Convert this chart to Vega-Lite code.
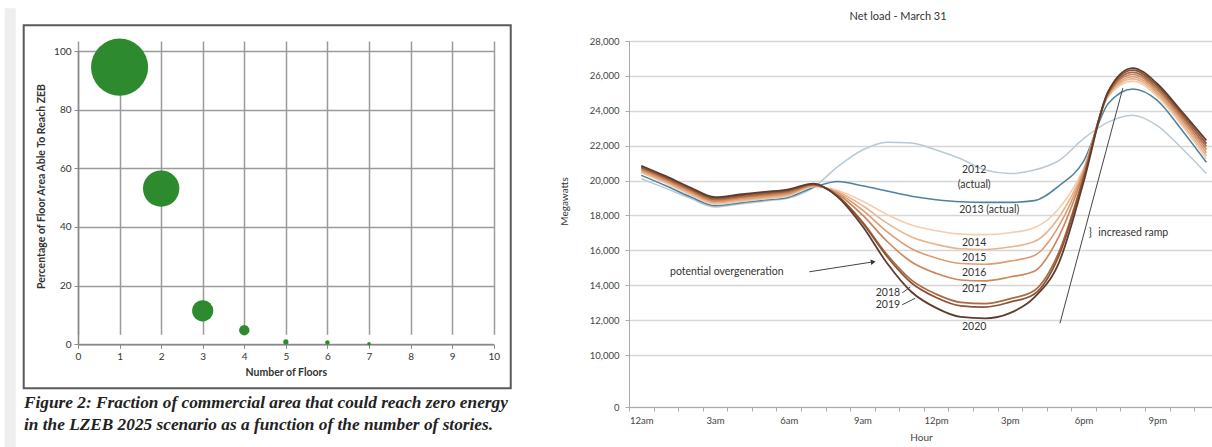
{
  "$schema": "https://vega.github.io/schema/vega-lite/v6.json",
  "padding": {"left": 4, "top": 8, "right": 0, "bottom": 0},
  "autosize": {"type": "pad"},
  "background": "white",
  "config": {"view": {"stroke": null}, "font": "Lato"},
  "spacing": 135,
  "bounds": "flush",
  "datasets": {
    "bubbles": [
      {"floors": 1, "pct": 94.5, "share": 94.7},
      {"floors": 2, "pct": 53.1, "share": 38.4},
      {"floors": 3, "pct": 11.4, "share": 13.1},
      {"floors": 4, "pct": 4.8, "share": 3.1},
      {"floors": 5, "pct": 0.8, "share": 0.8},
      {"floors": 6, "pct": 0.6, "share": 0.6},
      {"floors": 7, "pct": 0.2, "share": 0.37}
    ],
    "load": [
      {"hour": 0, "2012": 20100, "2013": 20300, "2014": 20440, "2015": 20510, "2016": 20580, "2017": 20650, "2018": 20720, "2019": 20790, "2020": 20850},
      {"hour": 1, "2012": 19550, "2013": 19700, "2014": 19840, "2015": 19910, "2016": 19980, "2017": 20050, "2018": 20120, "2019": 20190, "2020": 20250},
      {"hour": 2, "2012": 18980, "2013": 19070, "2014": 19190, "2015": 19260, "2016": 19330, "2017": 19400, "2018": 19470, "2019": 19540, "2020": 19600},
      {"hour": 3, "2012": 18480, "2013": 18560, "2014": 18640, "2015": 18710, "2016": 18780, "2017": 18850, "2018": 18920, "2019": 18990, "2020": 19050},
      {"hour": 4, "2012": 18650, "2013": 18720, "2014": 18790, "2015": 18860, "2016": 18930, "2017": 19000, "2018": 19070, "2019": 19140, "2020": 19200},
      {"hour": 5, "2012": 18820, "2013": 18880, "2014": 18940, "2015": 19010, "2016": 19080, "2017": 19150, "2018": 19220, "2019": 19290, "2020": 19350},
      {"hour": 6, "2012": 19000, "2013": 19050, "2014": 19120, "2015": 19180, "2016": 19250, "2017": 19310, "2018": 19380, "2019": 19440, "2020": 19500},
      {"hour": 7, "2012": 19600, "2013": 19600, "2014": 19640, "2015": 19670, "2016": 19700, "2017": 19730, "2018": 19760, "2019": 19790, "2020": 19820},
      {"hour": 8, "2012": 20800, "2013": 19950, "2014": 19430, "2015": 19360, "2016": 19290, "2017": 19220, "2018": 19110, "2019": 19100, "2020": 19050},
      {"hour": 9, "2012": 21750, "2013": 19700, "2014": 18825, "2015": 18570, "2016": 18315, "2017": 18030, "2018": 17640, "2019": 17580, "2020": 17390},
      {"hour": 10, "2012": 22200, "2013": 19400, "2014": 18055, "2015": 17560, "2016": 17070, "2017": 16520, "2018": 15760, "2019": 15650, "2020": 15270},
      {"hour": 11, "2012": 22150, "2013": 19100, "2014": 17450, "2015": 16770, "2016": 16090, "2017": 15330, "2018": 14290, "2019": 14130, "2020": 13610},
      {"hour": 12, "2012": 21750, "2013": 18900, "2014": 17120, "2015": 16340, "2016": 15560, "2017": 14680, "2018": 13490, "2019": 13300, "2020": 12700},
      {"hour": 13, "2012": 21250, "2013": 18780, "2014": 16930, "2015": 16090, "2016": 15245, "2017": 14300, "2018": 13020, "2019": 12820, "2020": 12180},
      {"hour": 14, "2012": 20600, "2013": 18750, "2014": 16900, "2015": 16050, "2016": 15200, "2017": 14250, "2018": 12950, "2019": 12750, "2020": 12100},
      {"hour": 15, "2012": 20400, "2013": 18750, "2014": 17010, "2015": 16190, "2016": 15380, "2017": 14470, "2018": 13220, "2019": 13030, "2020": 12400},
      {"hour": 16, "2012": 20600, "2013": 18850, "2014": 17300, "2015": 16500, "2016": 15700, "2017": 14800, "2018": 13700, "2019": 13500, "2020": 13300},
      {"hour": 17, "2012": 21150, "2013": 19700, "2014": 18400, "2015": 17900, "2016": 17400, "2017": 16800, "2018": 15900, "2019": 15700, "2020": 15300},
      {"hour": 18, "2012": 22400, "2013": 21100, "2014": 20700, "2015": 20600, "2016": 20500, "2017": 20400, "2018": 20200, "2019": 20100, "2020": 19900},
      {"hour": 19, "2012": 23350, "2013": 24400, "2014": 24800, "2015": 24850, "2016": 24900, "2017": 24950, "2018": 25000, "2019": 25050, "2020": 25100},
      {"hour": 20, "2012": 23750, "2013": 25250, "2014": 25700, "2015": 25830, "2016": 25950, "2017": 26080, "2018": 26200, "2019": 26330, "2020": 26450},
      {"hour": 21, "2012": 23150, "2013": 24600, "2014": 24820, "2015": 24940, "2016": 25060, "2017": 25180, "2018": 25300, "2019": 25430, "2020": 25550},
      {"hour": 22, "2012": 21850, "2013": 22900, "2014": 23170, "2015": 23300, "2016": 23440, "2017": 23570, "2018": 23700, "2019": 23830, "2020": 23950},
      {"hour": 23, "2012": 20400, "2013": 21050, "2014": 21250, "2015": 21420, "2016": 21600, "2017": 21780, "2018": 21950, "2019": 22120, "2020": 22300}
    ],
    "centerNotes": [
      {"label": "2012", "hour": 13.55, "mw": 20595},
      {"label": "(actual)", "hour": 13.55, "mw": 19735},
      {"label": "2014", "hour": 13.55, "mw": 16430},
      {"label": "2015", "hour": 13.55, "mw": 15540},
      {"label": "2016", "hour": 13.55, "mw": 14680},
      {"label": "2017", "hour": 13.55, "mw": 13760},
      {"label": "2020", "hour": 13.55, "mw": 11620},
      {"label": "2018", "hour": 10.04, "mw": 13530},
      {"label": "2019", "hour": 10.04, "mw": 12860},
      {"label": "}", "hour": 18.28, "mw": 16985}
    ],
    "leftNotes": [
      {"label": "2013 (actual)", "hour": 12.94, "mw": 18300},
      {"label": "potential overgeneration", "hour": 1.17, "mw": 14770},
      {"label": "increased ramp", "hour": 18.6, "mw": 16985}
    ],
    "segments": [
      {"seg": "overgen", "hour": 6.84, "mw": 14770},
      {"seg": "overgen", "hour": 9.44, "mw": 15340},
      {"seg": "ramp", "hour": 17.04, "mw": 11815},
      {"seg": "ramp", "hour": 19.6, "mw": 25300},
      {"seg": "l2018", "hour": 10.62, "mw": 13560},
      {"seg": "l2018", "hour": 10.95, "mw": 13900},
      {"seg": "l2019", "hour": 10.62, "mw": 12880},
      {"seg": "l2019", "hour": 11.15, "mw": 13250}
    ],
    "heads": [
      {"hour": 9.44, "mw": 15340}
    ]
  },
  "hconcat": [
    {
      "width": 415.7,
      "height": 303.3,
      "title": {
        "text": ["Figure 2: Fraction of commercial area that could reach zero energy", "in the LZEB 2025 scenario as a function of the number of stories."],
        "orient": "bottom",
        "anchor": "start",
        "frame": "group",
        "dx": -54,
        "offset": -53,
        "font": "Liberation Serif",
        "fontSize": 17.3,
        "fontWeight": "bold",
        "fontStyle": "italic",
        "color": "#222222",
        "lineHeight": 22
      },
      "layer": [
        {
          "data": {"values": [{}]},
          "mark": {"type": "rect", "fill": "#eeeeee", "clip": false},
          "encoding": {
            "x": {"datum": -1.763, "type": "quantitative"},
            "x2": {"datum": -1.499},
            "y": {"datum": 114.56, "type": "quantitative"},
            "y2": {"datum": -35.12}
          }
        },
        {
          "data": {"values": [{}]},
          "mark": {"type": "rect", "fillOpacity": 0, "stroke": "#5a5a5a", "strokeWidth": 2, "clip": false},
          "encoding": {
            "x": {"datum": -1.306, "type": "quantitative"},
            "x2": {"datum": 10.41},
            "y": {"datum": 108.76, "type": "quantitative"},
            "y2": {"datum": -15.0}
          }
        },
        {
          "data": {"name": "bubbles"},
          "mark": {"type": "circle", "opacity": 1, "color": "#2e8a2e"},
          "encoding": {
            "x": {
              "field": "floors", "type": "quantitative",
              "scale": {"domain": [0, 10], "nice": false, "zero": false},
              "axis": {
                "values": [0, 1, 2, 3, 4, 5, 6, 7, 8, 9, 10],
                "tickCount": 100,
                "format": "d",
                "title": "Number of Floors",
                "grid": true, "gridColor": "#9a9a9a", "gridWidth": 1.5,
                "domainColor": "#888888", "domainWidth": 1.5,
                "tickColor": "#888888", "tickSize": 4,
                "labelFontSize": 10, "labelColor": "#333333", "labelPadding": 3,
                "labelFlush": false, "labelOverlap": false,
                "titleFontSize": 10.5, "titleFontWeight": "bold", "titleColor": "#333333", "titlePadding": 6
              }
            },
            "y": {
              "field": "pct", "type": "quantitative",
              "scale": {"domain": [0, 100], "range": [303.3, 10], "nice": false, "zero": false},
              "axis": {
                "values": [0, 20, 40, 60, 80, 100],
                "tickCount": 100,
                "format": "d",
                "title": "Percentage of Floor Area Able To Reach ZEB",
                "grid": true, "gridColor": "#9a9a9a", "gridWidth": 1.5,
                "domainColor": "#888888", "domainWidth": 1.5,
                "tickColor": "#888888", "tickSize": 4,
                "labelFontSize": 10, "labelColor": "#333333", "labelPadding": 3,
                "labelFlush": false, "labelOverlap": false,
                "titleFontSize": 10.5, "titleFontWeight": "bold", "titleColor": "#333333",
                "titleX": -37, "titleY": 145, "titleAngle": -90, "titleBaseline": "middle"
              }
            },
            "size": {"field": "share", "type": "quantitative", "scale": {"domain": [0, 100], "range": [0, 3440], "zero": true}, "legend": null}
          }
        }
      ]
    },
    {
      "width": 584,
      "height": 366,
      "title": {"text": "Net load - March 31", "fontSize": 11, "fontWeight": "normal", "color": "#333333", "anchor": "middle", "frame": "group", "dx": -23, "offset": 14},
      "layer": [
        {
          "data": {"name": "load"},
          "transform": [{"fold": ["2012", "2013", "2014", "2015", "2016", "2017", "2018", "2019", "2020"], "as": ["series", "mw"]}],
          "mark": {"type": "line", "interpolate": "monotone"},
          "encoding": {
            "x": {
              "field": "hour", "type": "quantitative",
              "scale": {"domain": [-0.5, 23.27], "nice": false, "zero": false},
              "axis": {
                "values": [-0.5, 0.5, 1.5, 2.5, 3.5, 4.5, 5.5, 6.5, 7.5, 8.5, 9.5, 10.5, 11.5, 12.5, 13.5, 14.5, 15.5, 16.5, 17.5, 18.5, 19.5, 20.5, 21.5, 22.5],
                "tickCount": 100,
                "labelExpr": "(datum.value + 0.5) % 3 == 0 ? ['12am','3am','6am','9am','12pm','3pm','6pm','9pm'][(datum.value + 0.5) / 3] : ''",
                "labelOffset": 12.28,
                "labelOverlap": false, "labelFlush": false, "labelBound": false,
                "title": "Hour", "grid": false,
                "tickSize": 4, "tickColor": "#aaaaaa", "domainColor": "#aaaaaa",
                "labelFontSize": 9.5, "labelColor": "#444444", "labelPadding": 4,
                "titleFontSize": 10, "titleFontWeight": "normal", "titleColor": "#444444", "titlePadding": 8
              }
            },
            "y": {
              "field": "mw", "type": "quantitative",
              "scale": {"domain": [0, 10000, 28000], "range": [366, 314, 0], "nice": false, "zero": false},
              "axis": {
                "values": [0, 10000, 12000, 14000, 16000, 18000, 20000, 22000, 24000, 26000, 28000],
                "tickCount": 100,
                "format": ",d",
                "labelOverlap": false, "labelFlush": false,
                "title": "Megawatts",
                "grid": true, "gridColor": "#d6d6d6", "gridWidth": 1.5,
                "domainColor": "#aaaaaa", "tickColor": "#aaaaaa", "tickSize": 4,
                "labelPadding": 6, "labelFontSize": 9.5, "labelColor": "#444444",
                "titleFontSize": 10, "titleFontWeight": "normal", "titleColor": "#333333",
                "titleX": -65, "titleY": 160, "titleAngle": -90, "titleBaseline": "middle"
              }
            },
            "color": {
              "field": "series", "type": "nominal",
              "scale": {"domain": ["2012", "2013", "2014", "2015", "2016", "2017", "2018", "2019", "2020"],
                        "range": ["#b9cad6", "#4e82a0", "#f2cfb0", "#e8b48f", "#dc9d74", "#cc875c", "#a96a44", "#8b5436", "#5f3c30"]},
              "legend": null
            },
            "strokeWidth": {
              "field": "series", "type": "nominal",
              "scale": {"domain": ["2012", "2013", "2014", "2015", "2016", "2017", "2018", "2019", "2020"],
                        "range": [1.5, 1.8, 2, 2, 2, 2, 2, 2, 2.2]},
              "legend": null
            }
          }
        },
        {
          "data": {"name": "segments"},
          "mark": {"type": "line", "color": "#444444", "strokeWidth": 1},
          "encoding": {
            "x": {"field": "hour", "type": "quantitative"},
            "y": {"field": "mw", "type": "quantitative"},
            "detail": {"field": "seg", "type": "nominal"}
          }
        },
        {
          "data": {"name": "heads"},
          "mark": {"type": "point", "shape": "triangle-right", "filled": true, "size": 30, "angle": 351, "color": "#333333", "opacity": 1},
          "encoding": {
            "x": {"field": "hour", "type": "quantitative"},
            "y": {"field": "mw", "type": "quantitative"}
          }
        },
        {
          "data": {"name": "centerNotes"},
          "mark": {"type": "text", "align": "center", "baseline": "middle", "fontSize": 10.5, "color": "#333333"},
          "encoding": {
            "x": {"field": "hour", "type": "quantitative"},
            "y": {"field": "mw", "type": "quantitative"},
            "text": {"field": "label"}
          }
        },
        {
          "data": {"name": "leftNotes"},
          "mark": {"type": "text", "align": "left", "baseline": "middle", "fontSize": 10.5, "color": "#333333"},
          "encoding": {
            "x": {"field": "hour", "type": "quantitative"},
            "y": {"field": "mw", "type": "quantitative"},
            "text": {"field": "label"}
          }
        }
      ]
    }
  ]
}
